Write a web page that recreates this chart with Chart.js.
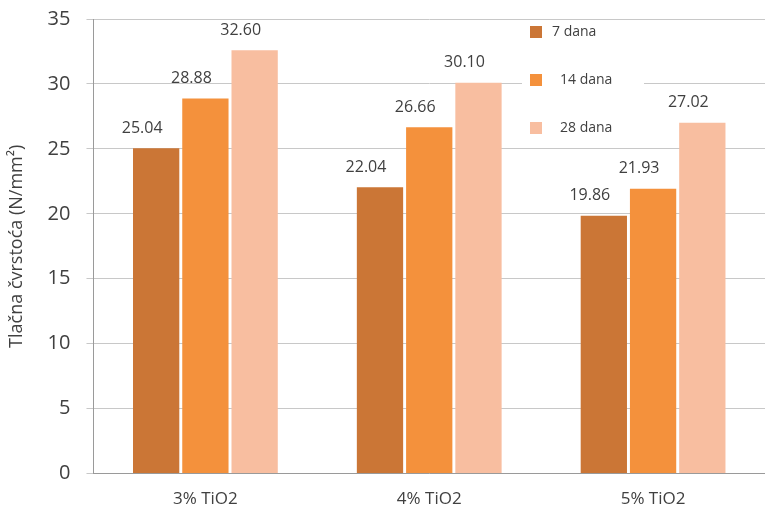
<!DOCTYPE html>
<html>
<head>
<meta charset="utf-8">
<script src="https://cdn.jsdelivr.net/npm/chart.js@4"></script>
<style>
  html, body { margin: 0; padding: 0; background: #fff; }
  #wrap { width: 765px; height: 519px; }
</style>
</head>
<body>
<div id="wrap"><canvas id="c" width="765" height="519"></canvas></div>
<script>
// --- data ---
const categories = ["3% TiO2", "4% TiO2", "5% TiO2"];
const seriesNames = ["7 dana", "14 dana", "28 dana"];
const day7 = [25.04, 22.04, 19.86];
const day14 = [28.88, 26.66, 21.93];
const day28 = [32.60, 30.10, 27.02];
const colors = ["#CB7636", "#F4913C", "#F8BEA0"];

const textColor = "#404040";
const font = "'Open Sans', sans-serif";

// value labels above each bar
const valueLabels = {
    id: "valueLabels",
    afterDatasetsDraw(chart) {
        const ctx = chart.ctx;
        ctx.save();
        ctx.font = "16px " + font;
        ctx.fillStyle = textColor;
        ctx.textAlign = "center";
        ctx.textBaseline = "bottom";
        chart.data.datasets.forEach((ds, i) => {
            chart.getDatasetMeta(i).data.forEach((bar, j) => {
                ctx.fillText(ds.data[j].toFixed(2), bar.x - 14, bar.y - 12);
            });
        });
        ctx.restore();
    },
};

// legend drawn inside the plot, top right, on a white box
const insideLegend = {
    id: "insideLegend",
    afterDraw(chart) {
        const ctx = chart.ctx;
        const x0 = 522, y0 = 22, step = 48;
        ctx.save();
        ctx.fillStyle = "#fff";
        ctx.fillRect(x0, y0 + 4, 122, step * 2 + 22);
        ctx.font = "14px " + font;
        ctx.textBaseline = "middle";
        chart.data.datasets.forEach((ds, i) => {
            const y = y0 + 10 + i * step;
            ctx.fillStyle = ds.backgroundColor;
            ctx.fillRect(x0 + 8, y - 6, 12, 12);
            ctx.fillStyle = textColor;
            ctx.fillText(ds.label, x0 + (i === 0 ? 30 : 38), y);
        });
        ctx.restore();
    },
};

new Chart(document.getElementById("c"), {
    type: "bar",
    data: {
        labels: categories,
        datasets: [
            { label: seriesNames[0], data: day7, backgroundColor: colors[0] },
            { label: seriesNames[1], data: day14, backgroundColor: colors[1] },
            { label: seriesNames[2], data: day28, backgroundColor: colors[2] },
        ],
    },
    options: {
        responsive: false,
        animation: false,
        devicePixelRatio: 1,
        layout: { padding: { top: 0, right: -5, left: 2, bottom: 3 } },
        datasets: {
            bar: { categoryPercentage: 0.66, barPercentage: 0.94 },
        },
        plugins: {
            legend: { display: false },
            tooltip: { enabled: false },
        },
        scales: {
            x: {
                grid: { display: false },
                border: { color: "#9a9a9a" },
                ticks: { color: textColor, font: { size: 17, family: font }, padding: 7 },
            },
            y: {
                min: 0,
                max: 35,
                afterFit(scale) { scale.paddingTop = 19; },
                ticks: { stepSize: 5, color: textColor, font: { size: 20, family: font }, padding: 16 },
                grid: { color: "#c8c8c8", tickLength: 7 },
                border: { color: "#9a9a9a" },
                title: {
                    display: true,
                    text: "Tlačna čvrstoća (N/mm²)",
                    color: textColor,
                    font: { size: 18, family: font },
                    padding: { bottom: 4 },
                },
            },
        },
    },
    plugins: [valueLabels, insideLegend],
});
</script>
</body>
</html>
